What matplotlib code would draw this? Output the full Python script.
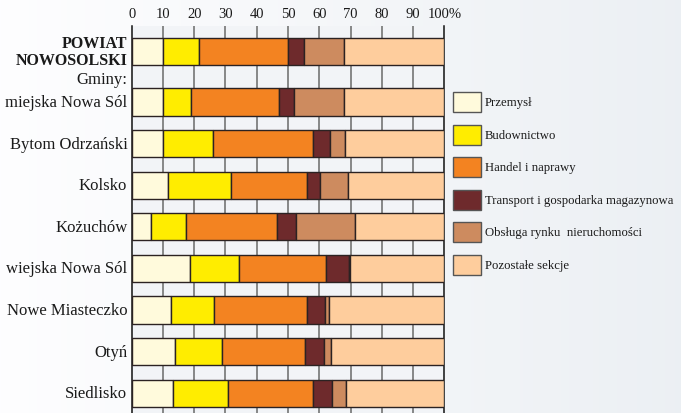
import numpy as np
import matplotlib.pyplot as plt
from matplotlib.patches import Rectangle

# wiersze: powiat + gminy
powiat = 'POWIAT\nNOWOSOLSKI'
gminy = ['miejska Nowa Sól', 'Bytom Odrzański', 'Kolsko', 'Kożuchów',
         'wiejska Nowa Sól', 'Nowe Miasteczko', 'Otyń', 'Siedlisko']

sekcje = ['Przemysł', 'Budownictwo', 'Handel i naprawy',
          'Transport i gospodarka magazynowa', 'Obsługa rynku  nieruchomości',
          'Pozostałe sekcje']
kolory = ['#fffadc', '#ffed00', '#f38321', '#6e2a2c', '#cd8b5f', '#fecd9d']

# udzialy (%) kolejno: powiat, potem gminy
przemysl     = [10.1, 10.1, 10.1, 11.7, 6.1, 18.7, 12.5, 13.9, 13.3]
budownictwo  = [11.4, 9.0, 16.0, 20.1, 11.2, 15.5, 13.9, 15.1, 17.4]
handel       = [28.5, 28.1, 32.0, 24.3, 29.1, 28.1, 29.7, 26.5, 27.4]
transport    = [5.2, 4.8, 5.3, 4.2, 6.1, 7.1, 5.6, 5.9, 5.9]
nieruchomosci = [12.8, 15.8, 4.9, 8.9, 19.0, 0.3, 1.3, 2.3, 4.6]
pozostale    = [32.0, 32.2, 31.7, 30.8, 28.5, 30.3, 37.0, 36.3, 31.4]

dane = np.array([przemysl, budownictwo, handel, transport, nieruchomosci, pozostale])
dane = dane / dane.sum(axis=0) * 100

W, H = 681, 414
fig = plt.figure(figsize=(W / 100, H / 100), dpi=100)
plt.rcParams['font.family'] = ['Liberation Serif', 'DejaVu Serif']

# tlo z lekkim gradientem
bg = fig.add_axes([0, 0, 1, 1], zorder=-10)
grad = np.linspace(0, 1, 256)[None, :, None]
c0 = np.array([0.995, 0.995, 1.0])
c1 = np.array([0.925, 0.94, 0.955])
bg.imshow(c0 + (c1 - c0) * grad, aspect='auto', extent=[0, 1, 0, 1])
bg.axis('off')

# pozycje wierszy
y_gminy = np.arange(len(gminy), dtype=float)
y_powiat = -1.21
pozycje = np.concatenate([[y_powiat], y_gminy])

x0, x1 = 131.7, 444.3
ax = fig.add_axes([x0 / W, 0, (x1 - x0) / W, 1 - 27 / H])
ax.set_facecolor('#f2f4f7')
ax.set_xlim(0, 100)
ax.set_ylim(7.476, -1.827)

left = np.zeros(dane.shape[1])
for i in range(len(sekcje)):
    ax.barh(pozycje, dane[i], left=left, height=0.65, color=kolory[i],
            edgecolor='#2b2222', linewidth=1.0, zorder=3)
    left += dane[i]

ax.xaxis.tick_top()
ax.set_xticks(np.arange(0, 101, 10))
ax.set_xticklabels([str(v) for v in range(0, 100, 10)] + ['100%'])
ax.tick_params(axis='x', length=0, pad=4, labelsize=10.5, colors='#1a1a1a')
ax.tick_params(axis='y', length=0)
ax.set_yticks([])
for v in range(10, 100, 10):
    ax.axvline(v, color='#6a6a6a', linewidth=1.1, zorder=1)
for s in ['top', 'bottom']:
    ax.spines[s].set_visible(False)
ax.spines['left'].set_color('#111111')
ax.spines['right'].set_color('#111111')
ax.spines['left'].set_linewidth(1.1)
ax.spines['right'].set_linewidth(1.1)

# etykiety wierszy
ax.text(-1.4, y_powiat, powiat, ha='right', va='center', fontsize=11.5,
        fontweight='bold', color='#1a1a1a', linespacing=1.1)
ax.text(-1.4, -0.55, 'Gminy:', ha='right', va='center', fontsize=12, color='#1a1a1a')
for y, nazwa in zip(y_gminy, gminy):
    ax.text(-1.4, y, nazwa, ha='right', va='center', fontsize=12, color='#1a1a1a')

# legenda
lg = fig.add_axes([0, 0, 1, 1], zorder=5)
lg.set_xlim(0, W)
lg.set_ylim(H, 0)
lg.axis('off')
for i, (nazwa, kol) in enumerate(zip(sekcje, kolory)):
    yc = 103.3 + 32.5 * i
    lg.add_patch(Rectangle((452.5, yc - 10), 28.5, 20, facecolor=kol,
                           edgecolor='#555555', linewidth=1.0))
    lg.text(485, yc, nazwa, ha='left', va='center', fontsize=9.2, color='#1a1a1a')

fig.savefig('out.png', dpi=100)
